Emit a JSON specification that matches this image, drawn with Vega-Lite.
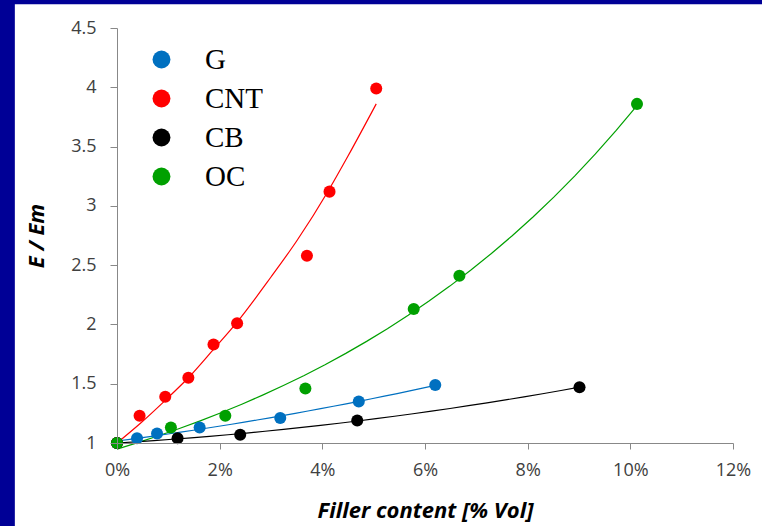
{
  "$schema": "https://vega.github.io/schema/vega-lite/v6.json",
  "width": 616,
  "height": 415,
  "autosize": {"type": "none"},
  "padding": {"left": 117, "top": 28, "right": 29, "bottom": 83},
  "background": "#000096",
  "config": {"view": {"stroke": null}},
  "datasets": {
    "pts": [
      {"series": "G", "x": 0.0, "E": 1.0},
      {"series": "G", "x": 0.0039, "E": 1.04},
      {"series": "G", "x": 0.0078, "E": 1.08},
      {"series": "G", "x": 0.0161, "E": 1.13},
      {"series": "G", "x": 0.0318, "E": 1.21},
      {"series": "G", "x": 0.0471, "E": 1.35},
      {"series": "G", "x": 0.0620, "E": 1.49},
      {"series": "CNT", "x": 0.0, "E": 1.0},
      {"series": "CNT", "x": 0.0044, "E": 1.23},
      {"series": "CNT", "x": 0.0094, "E": 1.39},
      {"series": "CNT", "x": 0.0139, "E": 1.55},
      {"series": "CNT", "x": 0.0188, "E": 1.83},
      {"series": "CNT", "x": 0.0234, "E": 2.01},
      {"series": "CNT", "x": 0.0370, "E": 2.58},
      {"series": "CNT", "x": 0.0414, "E": 3.12},
      {"series": "CNT", "x": 0.0505, "E": 3.99},
      {"series": "CB", "x": 0.0, "E": 1.0},
      {"series": "CB", "x": 0.0118, "E": 1.04},
      {"series": "CB", "x": 0.0240, "E": 1.07},
      {"series": "CB", "x": 0.0468, "E": 1.19},
      {"series": "CB", "x": 0.0901, "E": 1.47},
      {"series": "OC", "x": 0.0, "E": 1.0},
      {"series": "OC", "x": 0.0105, "E": 1.13},
      {"series": "OC", "x": 0.0211, "E": 1.23},
      {"series": "OC", "x": 0.0367, "E": 1.46},
      {"series": "OC", "x": 0.0578, "E": 2.13},
      {"series": "OC", "x": 0.0667, "E": 2.41},
      {"series": "OC", "x": 0.1013, "E": 3.86}
    ],
    "cnt_trend": [
      {"series": "CNT", "x": 0.0, "E": 1.0},
      {"series": "CNT", "x": 0.0044, "E": 1.16},
      {"series": "CNT", "x": 0.0094, "E": 1.36},
      {"series": "CNT", "x": 0.0139, "E": 1.55},
      {"series": "CNT", "x": 0.0188, "E": 1.79},
      {"series": "CNT", "x": 0.0234, "E": 2.02},
      {"series": "CNT", "x": 0.0300, "E": 2.40},
      {"series": "CNT", "x": 0.0351, "E": 2.71},
      {"series": "CNT", "x": 0.0412, "E": 3.13},
      {"series": "CNT", "x": 0.0450, "E": 3.42},
      {"series": "CNT", "x": 0.0505, "E": 3.86}
    ],
    "frame": [{"panel": "white"}]
  },
  "layer": [
    {
      "data": {"name": "frame"},
      "mark": {"type": "rect", "fill": "white", "stroke": null},
      "encoding": {
        "x": {"datum": -0.0199, "type": "quantitative", "scale": {"domain": [0, 0.12], "nice": false, "zero": false}},
        "x2": {"datum": 0.14},
        "y": {"datum": 4.70, "type": "quantitative", "scale": {"domain": [1, 4.5], "nice": false, "zero": false}},
        "y2": {"datum": 0.2}
      }
    },
    {
      "data": {"name": "pts"},
      "transform": [
        {"filter": "datum.series === 'OC'"},
        {"regression": "E", "on": "x", "groupby": ["series"], "method": "exp"}
      ],
      "mark": {"type": "line", "strokeWidth": 1.2, "stroke": "#00A000"},
      "encoding": {
        "x": {"field": "x", "type": "quantitative"},
        "y": {"field": "E", "type": "quantitative"}
      }
    },
    {
      "data": {"name": "cnt_trend"},
      "mark": {"type": "line", "strokeWidth": 1.2, "stroke": "#FF0000", "interpolate": "monotone"},
      "encoding": {
        "x": {"field": "x", "type": "quantitative"},
        "y": {"field": "E", "type": "quantitative"}
      }
    },
    {
      "data": {"name": "pts"},
      "transform": [
        {"filter": "datum.series === 'G' || datum.series === 'CB'"},
        {"regression": "E", "on": "x", "groupby": ["series"], "method": "poly", "order": 2}
      ],
      "mark": {"type": "line", "strokeWidth": 1.2},
      "encoding": {
        "x": {"field": "x", "type": "quantitative"},
        "y": {"field": "E", "type": "quantitative"},
        "stroke": {
          "field": "series", "type": "nominal", "legend": null,
          "scale": {"domain": ["G", "CB"], "range": ["#0070C0", "#000000"]}
        }
      }
    },
    {
      "data": {"name": "pts"},
      "mark": {"type": "point", "filled": true, "opacity": 1, "size": 145, "shape": "circle"},
      "encoding": {
        "x": {
          "field": "x", "type": "quantitative",
          "scale": {"domain": [0, 0.12], "nice": false, "zero": false},
          "axis": {
            "values": [0, 0.02, 0.04, 0.06, 0.08, 0.1, 0.12],
            "format": ".0%",
            "grid": false, "zindex": 2, "labelFlush": false,
            "title": "Filler content [% Vol]",
            "titleFont": "Open Sans", "titleFontSize": 22, "titleFontStyle": "italic", "titleFontWeight": "bold", "titleColor": "#000000",
            "titlePadding": 21,
            "labelFont": "Open Sans", "labelFontSize": 18, "labelColor": "#404040", "labelPadding": 12,
            "domainColor": "#888888", "tickColor": "#888888", "tickSize": 6
          }
        },
        "y": {
          "field": "E", "type": "quantitative",
          "scale": {"domain": [1, 4.5], "nice": false, "zero": false},
          "axis": {
            "values": [1, 1.5, 2, 2.5, 3, 3.5, 4, 4.5],
            "format": "~g",
            "grid": false, "zindex": 2,
            "title": "E / Em",
            "titleFont": "Open Sans", "titleFontSize": 22, "titleFontStyle": "italic", "titleFontWeight": "bold", "titleColor": "#000000",
            "titlePadding": 22,
            "labelFont": "Open Sans", "labelFontSize": 18, "labelColor": "#404040", "labelPadding": 14,
            "domainColor": "#888888", "tickColor": "#888888", "tickSize": 7
          }
        },
        "color": {
          "field": "series", "type": "nominal",
          "scale": {"domain": ["G", "CNT", "CB", "OC"], "range": ["#0070C0", "#FF0000", "#000000", "#00A000"]},
          "legend": {
            "title": null, "orient": "none", "legendX": 30, "legendY": 17, "zindex": 2,
            "padding": 0, "symbolType": "circle", "symbolSize": 320, "symbolStrokeWidth": 0,
            "labelFont": "Liberation Serif", "labelFontSize": 29, "labelColor": "#000000",
            "labelOffset": 29, "rowPadding": 9
          }
        }
      }
    }
  ]
}
